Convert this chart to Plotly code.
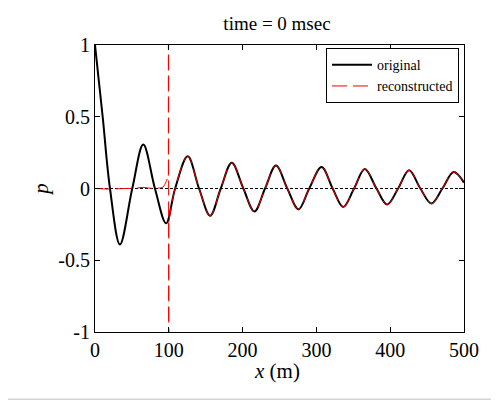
import plotly.graph_objects as go

# ---- data ----
orig_x = [0, 10.4, 20.3, 33.8, 50.5, 65.4, 81.2, 96.3, 108.6, 125.6, 141, 156, 170.4,
          185.3, 201, 216, 230.4, 245.2, 260.6, 275.7, 290.3, 307, 322, 336.3, 351,
          365.6, 381.4, 395.8, 410.7, 425.6, 440.9, 455.8, 470.7, 486, 500]
orig_y = [1.0, 0.5, 0.0, -0.39, 0.0, 0.306, 0.0, -0.242, 0.0, 0.224, 0.0, -0.19, 0.0,
          0.18, 0.0, -0.16, 0.0, 0.16, 0.0, -0.145, 0.0, 0.15, 0.0, -0.129, 0.0,
          0.136, 0.0, -0.112, 0.0, 0.127, 0.0, -0.105, 0.0, 0.115, 0.041]

recon_pre_x = [0, 20, 40, 55, 65, 75, 85, 92, 96.5, 99.4]
recon_pre_y = [0.0, -0.004, 0.0, 0.002, 0.008, 0.002, 0.003, 0.01, 0.05, 0.09]

recon_spike_x = [99.4, 99.7, 99.8, 100.1]
recon_spike_y = [0.09, 12.0, -12.0, -0.235]

recon_post_x = [100.1] + orig_x[8:]
recon_post_y = [-0.235] + orig_y[8:]

zero_x = [0, 500]
zero_y = [0, 0]

x_ticks = [0, 100, 200, 300, 400, 500]
x_ticktext = ["0", "100", "200", "300", "400", "500"]
y_ticks = [-1, -0.5, 0, 0.5, 1]
y_ticktext = ["-1", "-0.5", "0", "0.5", "1"]

FONT = "Liberation Serif, Times New Roman, serif"
RED = "#f00000"
RDASH = "15px,6px"

fig = go.Figure()
fig.add_trace(go.Scatter(x=zero_x, y=zero_y, mode="lines", showlegend=False,
                         line=dict(color="black", width=1, dash="3px,2px")))
fig.add_trace(go.Scatter(x=orig_x, y=orig_y, mode="lines", name="original",
                         line=dict(color="black", width=2, shape="spline")))
fig.add_trace(go.Scatter(x=recon_pre_x, y=recon_pre_y, mode="lines", name="reconstructed",
                         legendgroup="rec",
                         line=dict(color=RED, width=1, dash=RDASH, shape="spline")))
fig.add_trace(go.Scatter(x=recon_spike_x, y=recon_spike_y, mode="lines", showlegend=False,
                         legendgroup="rec",
                         line=dict(color=RED, width=1, dash=RDASH)))
fig.add_trace(go.Scatter(x=recon_post_x, y=recon_post_y, mode="lines", showlegend=False,
                         legendgroup="rec",
                         line=dict(color=RED, width=1, dash=RDASH, shape="spline")))

axis_common = dict(showgrid=False, zeroline=False, showline=True, linecolor="black",
                   linewidth=1, mirror="allticks", ticks="inside", ticklen=5,
                   tickcolor="black", tickfont=dict(family=FONT, size=20, color="black"))

fig.update_layout(
    width=499, height=400,
    margin=dict(l=87, r=43, t=37, b=76, autoexpand=False),
    paper_bgcolor="white", plot_bgcolor="white",
    title=dict(text="time = 0 msec", x=(277 - 95) / 369, xref="paper", y=1 - 15 / 400,
               yref="container", xanchor="center", yanchor="middle",
               font=dict(family=FONT, size=19, color="black")),
    xaxis=dict(range=[0, 500], tickvals=x_ticks, ticktext=x_ticktext, **axis_common),
    yaxis=dict(range=[-1, 1], tickvals=y_ticks, ticktext=y_ticktext,
               title=dict(text="<i>p</i>", standoff=3,
                          font=dict(family=FONT, size=21, color="black")),
               **axis_common),
    legend=dict(x=(459 - 95) / 369, y=0.989, xanchor="right", yanchor="top",
                bgcolor="white", bordercolor="black", borderwidth=1,
                font=dict(family=FONT, size=14, color="black"),
                itemwidth=40, tracegroupgap=0),
    showlegend=True,
    annotations=[dict(text="<i>x</i> (m)", xref="paper", yref="paper",
                      x=(277 - 95) / 369, y=-39 / 287, xanchor="center", yanchor="middle",
                      showarrow=False, font=dict(family=FONT, size=21, color="black"))],
    shapes=[dict(type="line", xref="paper", yref="paper", x0=-95 / 369, x1=404 / 369,
                 y0=-67.5 / 287, y1=-67.5 / 287, line=dict(color="#d4d4d4", width=2))],
)

fig.write_html("out.html")
